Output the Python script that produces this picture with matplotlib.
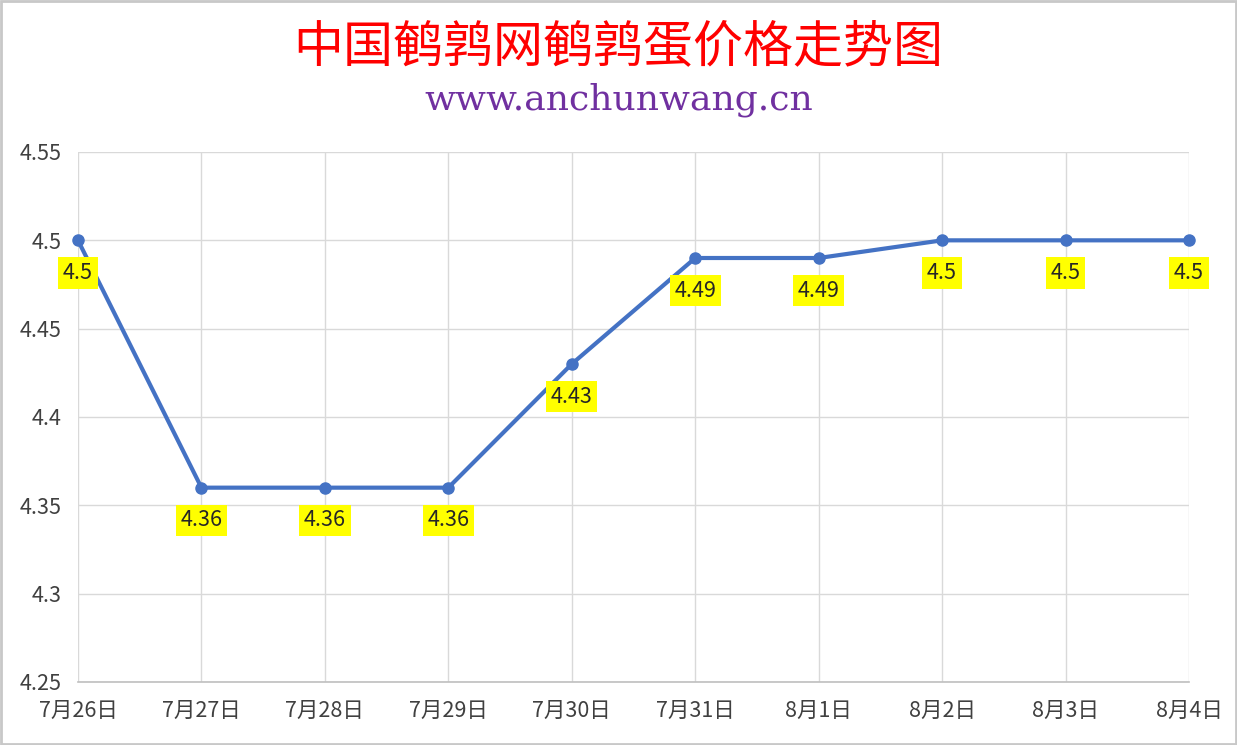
import matplotlib.pyplot as plt
from matplotlib.patches import Rectangle

plt.rcParams['font.family'] = ['Noto Sans CJK SC', 'DejaVu Sans']

dates = ['7月26日', '7月27日', '7月28日', '7月29日', '7月30日',
         '7月31日', '8月1日', '8月2日', '8月3日', '8月4日']
prices = [4.5, 4.36, 4.36, 4.36, 4.43, 4.49, 4.49, 4.5, 4.5, 4.5]
yticks = [4.25, 4.3, 4.35, 4.4, 4.45, 4.5, 4.55]
ytick_labels = ['4.25', '4.3', '4.35', '4.4', '4.45', '4.5', '4.55']

fig = plt.figure(figsize=(12.37, 7.45), dpi=100)
ax = fig.add_axes([78/1237, 1-682/745, (1189-78)/1237, (682-152)/745])

x = list(range(len(dates)))
ax.plot(x, prices, color='#4472C4', linewidth=3, marker='o', markersize=8, zorder=3,
        clip_on=False)

for xi, v in zip(x, prices):
    ax.annotate(f'{v:g}', (xi, v), xytext=(0, -23.5), textcoords='offset points',
                ha='center', va='center', fontsize=15.5, color='#262626',
                bbox=dict(boxstyle='square,pad=0.22', fc='#FFFF00', ec='none'),
                zorder=4)

ax.set_xlim(0, len(dates)-1)
ax.set_ylim(4.25, 4.55)
ax.set_xticks(x)
ax.set_xticklabels(dates, fontsize=15.5, color='#404040')
ax.set_yticks(yticks)
ax.set_yticklabels(ytick_labels, fontsize=15.5, color='#404040')
ax.grid(True, color='#D9D9D9', linewidth=1)
ax.tick_params(axis='y', length=0, pad=12)
ax.tick_params(axis='x', length=0, pad=13)
for s in ['top', 'right', 'left']:
    ax.spines[s].set_visible(False)
ax.spines['bottom'].set_color('#BFBFBF')
ax.spines['bottom'].set_linewidth(1.2)

fig.text(0.5, 1-47/745, '中国鹌鹑网鹌鹑蛋价格走势图', ha='center', va='center',
         fontsize=36, color='#FF0000', family=['Noto Sans CJK SC'])
fig.text(0.5, 1-100/745, 'www.anchunwang.cn', ha='center', va='center',
         fontsize=26, color='#7030A0', family=['DejaVu Serif'])

fig.add_artist(Rectangle((0.001, 0.001), 0.998, 0.997, transform=fig.transFigure,
                         fill=False, ec='#C8C8C8', lw=2))

fig.savefig('out.png', dpi=100)
